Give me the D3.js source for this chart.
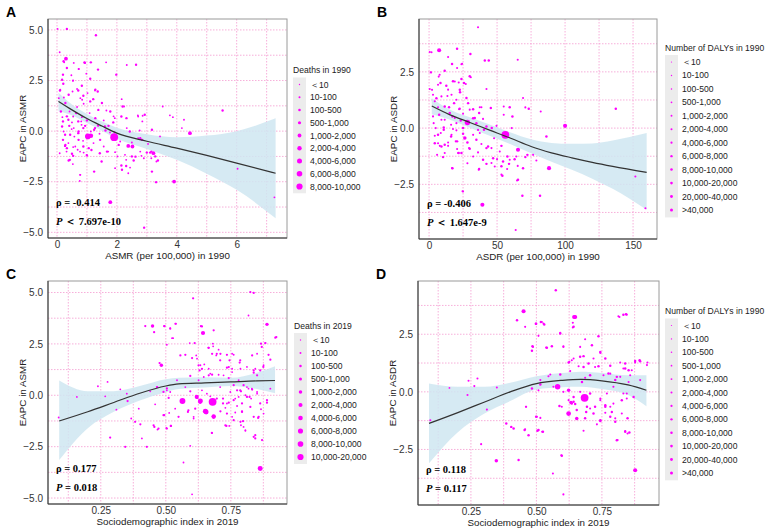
<!DOCTYPE html>
<html>
<head>
<meta charset="utf-8">
<script src="https://d3js.org/d3.v7.min.js"></script>
<style>
  body { margin: 0; background: #fff; }
  svg { font-family: "Liberation Sans", Arial, sans-serif; }
</style>
</head>
<body>
<script>
// EAPC scatter panels, four of them

var W = 767, H = 532;

// legend categories
var deaths1990 = ["＜10", "10-100", "100-500", "500-1,000", "1,000-2,000", "2,000-4,000", "4,000-6,000", "6,000-8,000", "8,000-10,000"];
var dalys1990 = ["＜10", "10-100", "100-500", "500-1,000", "1,000-2,000", "2,000-4,000", "4,000-6,000", "6,000-8,000", "8,000-10,000", "10,000-20,000", "20,000-40,000", ">40,000"];
var deaths2019 = ["＜10", "10-100", "100-500", "500-1,000", "1,000-2,000", "2,000-4,000", "4,000-6,000", "6,000-8,000", "8,000-10,000", "10,000-20,000"];

// points: [x, EAPC, size class]
var pointsA = [
  [0.02,5.05,1],[0.33,5.05,2],[1.3,4.74,2],[0.09,3.9,1],[0.3,3.58,4],[0.22,3.45,2],[0.56,3.37,1],[0.92,3.4,2],
  [1.13,3.4,2],[1.64,3.4,1],[0.33,3.12,2],[0.72,3.07,1],[1.37,3.04,2],[2.33,3.27,1],[2.64,3.28,2],[0.2,2.79,2],
  [0.48,2.76,1],[0.98,2.84,1],[1.98,2.79,2],[0.17,2.54,2],[0.53,2.49,1],[1.11,2.59,2],[0.83,2.24,2],[0.11,2.05,1],
  [0.67,2.08,1],[1.28,2.05,2],[1.36,1.96,2],[1.02,1.88,1],[0.39,1.8,2],[0.06,1.63,1],[0.78,1.63,1],[1.11,1.47,2],
  [2.16,1.58,1],[0.28,1.39,2],[0.89,1.35,1],[1.5,1.39,2],[2.19,1.22,2],[0.67,1.19,1],[3.53,1.22,1],[5.53,1.02,2],
  [0.13,0.97,2],[0.42,0.97,1],[0.64,0.89,2],[1.09,0.89,1],[1.78,0.97,2],[2.7,0.78,1],[3.77,0.78,1],[2.86,0.76,1],
  [0.33,0.73,2],[0.83,0.69,1],[1.28,0.64,2],[1.89,0.73,1],[3.87,0.69,1],[4.24,0.56,1],[0.2,0.48,2],[0.5,0.43,1],
  [1.0,0.53,2],[1.56,0.53,1],[0.94,0.26,2],[1.36,0.28,1],[1.72,0.26,2],[4.17,0.15,1],[0.17,0.23,2],[0.56,0.15,1],
  [0.72,-0.02,2],[1.13,-0.02,1],[1.92,-0.07,1],[2.33,0.15,1],[2.76,0.03,1],[3.17,0.07,2],[0.44,-0.18,2],[1.03,-0.26,6],
  [1.13,-0.23,5],[1.91,-0.3,8],[4.44,-0.1,4],[0.2,-0.43,2],[0.87,-0.48,1],[1.44,-0.43,2],[2.11,-0.51,1],[3.44,-0.26,1],
  [0.28,-0.68,2],[0.61,-0.76,1],[2.5,-0.56,1],[2.78,-0.35,2],[0.33,-0.84,2],[0.69,-0.92,1],[1.06,-0.84,2],[1.56,-0.76,1],
  [2.06,-0.68,2],[2.52,-0.76,4],[0.09,-1.09,1],[0.5,-1.12,2],[0.89,-1.06,1],[1.94,-1.04,1],[1.0,-1.2,2],[3.0,-1.06,2],
  [3.11,-1.06,2],[3.22,-1.09,4],[3.28,-1.25,2],[2.9,-1.34,1],[0.39,-1.45,2],[2.31,-1.42,1],[2.56,-1.45,2],[3.37,-1.45,2],
  [0.53,-1.63,1],[2.31,-1.72,2],[2.44,-1.8,1],[2.17,-1.91,2],[1.94,-1.83,1],[3.17,-2.0,2],[1.24,-2.0,2],[0.78,-2.16,1],
  [6.03,-1.86,1],[0.76,-2.46,1],[3.31,-2.52,2],[3.91,-2.49,4],[1.78,-3.51,4],[7.26,-3.27,1],[2.91,-4.77,2],
  [0.22,-0.02,1],[0.41,0.26,2],[0.81,0.48,1],[1.24,0.07,2],[1.42,-0.13,1],[1.62,0.03,2],[0.72,-0.43,2],[1.22,-0.59,1],
  [1.67,-1.01,2],[2.02,-1.25,1],[2.5,-1.25,2],[2.78,-1.01,1],
  [0.24,3.4,1],[0.93,3.37,2],[0.73,3.07,1],[0.21,2.34,2],[0.54,2.5,1],[0.1,2.01,2],[0.52,1.96,1],[0.71,2.01,2],
  [1.27,2.01,1],[0.88,1.75,2],[0.84,1.55,1],[1.21,1.58,2],[0.23,1.66,1],[1.38,1.05,2],[1.65,1.02,1],[2.24,1.22,1],
  [2.15,0.72,2],[2.71,0.72,1],[2.93,0.81,2],[2.85,0.48,1],[2.32,0.64,2],[1.93,0.64,1],[1.88,0.43,2],[0.18,0.69,1],
  [0.38,0.56,2],[0.54,0.72,1],[0.71,0.48,2],[0.82,0.31,1],[0.88,0.15,2],[0.49,0.1,1],[1.27,0.15,2],[1.38,0.26,1],
  [1.6,0.23,2],[1.77,-0.07,1],[2.43,-0.02,2],[2.71,-0.35,1],[2.84,-0.43,2],[3.04,-0.63,1],[0.27,-0.18,2],[0.58,-0.27,1],
  [0.71,-0.1,2],[0.38,-0.59,1],[0.27,-0.73,2],[0.54,-0.79,1],[0.88,-0.76,2],[0.77,-1.01,1],[1.15,-0.93,2],[0.32,-1.01,1],
  [0.54,-1.22,2],[0.99,-1.17,1],[1.43,-1.09,2],[1.71,-1.01,1],[2.38,-0.73,4],[2.27,-1.17,1],[2.62,-1.26,2],[2.82,-1.22,1],
  [3.15,-1.01,2],[3.32,-1.5,1],[2.15,-1.7,2],[2.38,-2.08,1],[0.43,-1.42,2],[0.77,-2.16,1],[1.49,-1.5,2],[3.15,-1.34,1]
];

var pointsB = [
  [36,4.48,2],[0.5,3.38,2],[7.4,3.46,6],[20.6,3.53,3],[30.4,3.29,3],[14,3.16,2],[41,3.0,3],[43.9,3.0,3],
  [65.2,3.04,2],[24.3,2.86,2],[20.6,2.67,2],[11.5,2.55,3],[1.2,2.48,2],[29.9,2.3,3],[7.8,2.37,2],[17.6,2.08,3],
  [21.8,2.03,2],[25.7,2.0,3],[27,1.96,2],[6.6,1.93,2],[12.7,1.88,3],[0.5,1.74,2],[14,1.71,2],[42.2,1.74,2],
  [22.8,1.59,3],[2.9,1.48,2],[9.1,1.41,2],[69.1,1.34,2],[27.5,1.34,3],[20.1,1.26,2],[18.4,1.11,3],[4.2,1.19,2],
  [11.5,0.96,3],[37.3,0.93,2],[54.9,0.96,2],[59.3,0.93,3],[70.8,0.92,2],[73.3,0.86,3],[137.3,0.86,3],[82.1,0.74,2],
  [22.5,0.86,3],[29.9,0.82,2],[15.2,0.67,3],[25,0.64,2],[36.8,0.67,3],[2.9,0.52,2],[7.4,0.59,3],[18.9,0.45,2],
  [33.6,0.45,3],[54.9,0.59,2],[61.3,0.52,3],[11.5,0.37,2],[23.3,0.34,3],[3.4,0.22,2],[28.2,0.25,8],[34.8,0.22,3],
  [16.2,0.15,2],[46.1,0,3],[60.8,0,2],[100,0.1,6],[4.9,0,2],[10.8,-0.07,3],[20.1,-0.1,2],[40.4,-0.07,3],
  [8.6,-0.22,2],[25,-0.25,3],[37.3,-0.22,2],[56.1,-0.3,11],[86.3,-0.37,3],[4.2,-0.34,2],[16.2,-0.37,3],[47.8,-0.45,2],
  [34.8,-0.52,3],[19.6,-0.59,2],[28.2,-0.64,3],[6.6,-0.67,2],[38.5,-0.71,2],[9.1,-0.82,3],[14,-0.79,2],[43.4,-0.82,3],
  [65.4,-0.96,6],[20.6,-0.93,2],[29.9,-0.92,3],[52,-1.04,2],[72.3,-1.19,3],[11.5,-1.11,2],[21.8,-1.11,3],[36,-1.08,2],
  [57.6,-1.26,3],[76.5,-1.19,2],[47.1,-1.34,3],[64.2,-1.26,2],[70.8,-1.29,3],[78.9,-1.44,2],[28.2,-1.56,2],[42.2,-1.59,3],
  [48.3,-1.71,2],[58.8,-1.59,3],[65.2,-1.68,2],[88.2,-1.78,6],[17.2,-1.78,3],[36.5,-1.85,2],[53.9,-2.12,3],[64.7,-2.33,2],
  [151.7,-2.15,2],[25,-2.82,2],[68.6,-3.01,3],[81.6,-3.01,3],[39.2,-3.41,6],[159.1,-3.56,2],[63.7,-4.53,2],
  [1.8,3.37,2],[23.8,2.84,2],[16.9,2.85,3],[1.5,2.47,2],[7.1,2.29,2],[8.4,2.0,3],[18.9,2.07,2],[23.8,2.18,3],
  [30.7,2.26,2],[2.2,1.7,2],[22.6,1.7,3],[16.5,1.48,2],[5.4,1.33,3],[13.5,1.43,2],[28.7,1.11,3],[6.6,0.93,2],
  [14.7,0.93,3],[22.1,0.84,2],[32.4,0.84,3],[38.5,0.93,2],[45.4,0.89,3],[9.1,0.37,2],[17.2,0.52,3],[20.1,0.22,2],
  [32.4,0.44,3],[39.7,0.41,2],[10.8,0.03,3],[17.6,-0.04,2],[25,0,3],[36,-0.08,2],[42.2,0.07,3],[49.6,0.1,2],
  [6.6,-0.3,3],[16.5,-0.3,2],[26.3,-0.44,5],[32.4,-0.3,2],[4.2,-0.67,3],[14,-0.64,2],[20.6,-0.59,3],[29.4,-0.89,2],
  [42.2,-0.89,3],[45.9,-0.89,2],[53.2,-0.79,3],[7.9,-0.79,2],[11.5,-0.74,3],[21.3,-1.11,2],[23.8,-1.11,3],[5.9,-1.19,2],
  [10.3,-1.29,3],[32.4,-1.26,2],[39.7,-1.41,3],[50,-1.38,2],[54.4,-1.48,3],[59.3,-1.41,2],[62.9,-1.38,3],[45.9,-1.55,2],
  [53.2,-1.7,3],[57.4,-1.82,2],[36.8,-1.82,3],[16.9,-1.78,2],[69.1,-1.78,3],[53.2,-2.07,2],[65.4,-2.3,3],[24.6,-2.81,2]
];

var pointsC = [
  [0.605,4.72,2],[0.568,-3.27,1],[0.601,-4.82,1],[0.421,3.37,2],[0.449,3.37,4],[0.455,3.07,2],[0.495,3.37,2],[0.517,3.24,2],
  [0.539,3.48,1],[0.524,2.78,1],[0.639,3.35,2],[0.643,3.03,5],[0.684,3.16,2],[0.611,2.54,2],[0.575,1.97,2],[0.62,1.78,1],
  [0.476,1.57,2],[0.483,1.46,4],[0.626,1.46,2],[0.648,1.5,1],[0.664,2.31,2],[0.681,2.51,1],[0.696,2.02,2],[0.703,2.22,1],
  [0.709,1.7,2],[0.735,1.97,2],[0.761,1.97,1],[0.745,1.7,2],[0.671,1.05,1],[0.63,1.21,2],[0.646,0.89,1],[0.735,1.34,2],
  [0.755,1.13,1],[0.786,1.7,2],[0.812,1.38,1],[0.838,1.21,2],[0.818,3.88,1],[0.869,2.35,2],[0.882,2.54,1],[0.895,1.97,2],
  [0.889,3.45,4],[0.925,2.83,2],[0.825,5.02,2],[0.838,4.98,2],[0.158,-0.08,1],[0.088,-1.08,1],[0.239,0.44,1],[0.276,0.65,1],
  [0.267,-0.05,1],[0.325,0.29,1],[0.286,-2.06,2],[0.31,-0.7,1],[0.344,-2.51,2],[0.35,0.08,1],[0.353,-0.28,2],[0.367,-1.13,1],
  [0.382,-1.29,2],[0.402,-1.41,2],[0.396,-0.65,1],[0.408,-2.1,1],[0.427,-2.51,2],[0.44,0.19,1],[0.459,-0.44,1],[0.466,0.4,2],
  [0.453,-1.46,2],[0.472,-1.62,2],[0.491,-0.97,2],[0.504,0.24,1],[0.511,-0.13,2],[0.517,0.16,1],[0.504,-1.62,2],[0.519,-1.49,2],
  [0.536,-0.65,1],[0.549,-1.05,2],[0.564,-0.28,7],[0.575,0.4,1],[0.594,0.19,2],[0.587,-0.73,2],[0.607,-1.05,1],[0.619,-0.08,5],
  [0.632,-0.32,5],[0.639,0.24,1],[0.649,-0.81,2],[0.655,-0.81,6],[0.658,0.08,1],[0.68,-0.32,9],[0.684,-1.05,5],[0.677,-1.83,2],
  [0.696,-0.16,2],[0.709,0.4,1],[0.72,-0.4,2],[0.735,-0.89,2],[0.729,-1.46,2],[0.748,0.16,1],[0.761,-0.24,2],[0.761,-1.21,2],
  [0.774,-0.52,1],[0.786,0.24,2],[0.793,-0.81,2],[0.799,-1.54,1],[0.812,-0.08,2],[0.825,-0.57,2],[0.831,0.32,1],[0.838,-1.05,2],
  [0.844,-1.94,2],[0.851,0.08,1],[0.863,-0.4,2],[0.876,-0.89,1],[0.87,-2.18,2],[0.863,-3.56,6],[0.889,-0.24,2],[0.902,0.32,1],
  [0.921,2.8,2],[0.883,2.54,2],[0.875,1.38,2],[0.844,1.29,1],[0.902,1.73,2],[0.851,0.97,2],[0.818,0.32,1],[0.799,0.49,2],
  [0.857,-1.05,2],[0.787,-1.29,2],[0.806,-1.7,1],[0.844,-2.1,2],
  [0.494,3.36,2],[0.517,3.27,1],[0.537,3.48,2],[0.528,2.78,1],[0.635,3.36,2],[0.592,2.54,1],[0.665,2.31,2],[0.682,2.38,1],
  [0.556,1.94,2],[0.504,2.46,1],[0.601,1.81,2],[0.617,1.94,1],[0.678,2.02,2],[0.694,1.94,1],[0.71,2.02,2],[0.755,2.02,1],
  [0.832,1.94,2],[0.851,2.02,1],[0.866,2.51,2],[0.633,1.46,1],[0.639,1.29,2],[0.665,1.29,1],[0.742,1.37,2],[0.755,1.29,1],
  [0.784,1.59,2],[0.787,1.29,1],[0.838,1.1,2],[0.876,1.46,1],[0.863,1.21,2],[0.703,1.0,1],[0.665,0.97,2],[0.722,0.97,1],
  [0.742,0.84,2],[0.78,0.73,1],[0.761,0.49,2],[0.812,0.4,1],[0.832,0.28,2],[0.851,0.16,1],[0.789,0.19,2],[0.806,0,1],
  [0.822,-0.08,2],[0.78,-0.08,1],[0.793,-0.4,2],[0.828,-0.16,1],[0.889,-0.36,2],[0.866,-0.68,1],[0.742,-0.36,2],[0.729,-0.61,1],
  [0.71,-0.78,2],[0.767,-0.84,1],[0.793,-0.78,2],[0.755,-1.05,1],[0.797,-1.26,2],[0.789,-1.46,1],[0.855,-1.1,2],[0.806,-1.73,1],
  [0.838,-2.02,2],[0.744,-1.49,1],[0.733,-1.49,2],[0.678,-1.83,1],[0.613,-0.65,2],[0.607,-1.13,1],[0.585,-0.81,2],[0.513,-0.86,1],
  [0.494,-0.97,2],[0.468,-1.67,1],[0.456,-1.54,2],[0.502,-1.59,1],[0.52,-1.49,2],[0.594,-2.46,1],[0.652,-0.78,6],[0.658,-0.84,2],
  [0.684,-1.02,5],[0.633,-0.28,6],[0.62,-0.13,2],[0.735,-0.4,1],[0.72,-0.16,2],[0.671,-0.05,1],[0.774,0.24,2],[0.767,-0.16,1],
  [0.678,1.0,2],[0.626,0.73,1],[0.594,0.94,2],[0.543,0.73,1],[0.504,0.33,2],[0.468,0.4,1],[0.491,0.16,2]
];

var pointsD = [
  [0.574,4.41,3],[0.451,3.5,6],[0.426,3.11,3],[0.457,2.82,2],[0.498,2.96,3],[0.517,3.03,3],[0.527,2.96,2],[0.648,3.25,6],
  [0.639,3.0,2],[0.642,2.82,3],[0.591,2.56,2],[0.737,2.41,3],[0.686,2.28,2],[0.813,3.28,2],[0.842,3.37,3],[0.485,1.98,3],
  [0.537,1.92,2],[0.559,1.98,3],[0.483,1.78,3],[0.603,1.95,2],[0.667,1.95,2],[0.744,1.73,3],[0.635,1.37,2],[0.667,1.52,3],
  [0.718,1.45,2],[0.763,1.45,3],[0.626,1.3,2],[0.68,1.08,3],[0.737,1.11,3],[0.782,0.79,2],[0.839,1.01,3],[0.877,1.34,3],
  [0.894,1.37,3],[0.864,0.94,2],[0.82,0.65,2],[0.241,0.48,2],[0.275,0.58,2],[0.263,0.25,2],[0.237,-0.14,2],[0.168,0.17,1],
  [0.095,-1.23,2],[0.289,-2.27,2],[0.311,-0.77,2],[0.349,0.19,2],[0.347,-2.99,5],[0.385,-1.37,3],[0.404,-1.52,3],[0.413,-1.59,3],
  [0.432,-2.96,3],[0.455,-1.66,3],[0.46,-0.65,2],[0.502,-1.08,2],[0.508,-1.66,3],[0.525,-1.73,3],[0.515,0.51,2],[0.546,0.68,2],
  [0.565,0.22,2],[0.581,0.22,8],[0.597,-0.65,2],[0.603,0,2],[0.595,-2.75,2],[0.563,-3.54,2],[0.603,-4.45,2],[0.623,0.07,5],
  [0.635,-0.51,3],[0.642,-0.22,3],[0.654,-0.79,3],[0.623,-0.94,7],[0.654,-1.16,5],[0.667,0,2],[0.684,-0.26,11],[0.693,-0.65,3],
  [0.68,-1.69,2],[0.705,-0.07,3],[0.718,-0.94,3],[0.744,-1.23,3],[0.744,-0.36,2],[0.763,-0.65,3],[0.769,-0.07,2],[0.782,-1.08,3],
  [0.794,-0.51,2],[0.807,-2.1,3],[0.826,-0.94,2],[0.839,-1.73,3],[0.845,-0.07,2],[0.848,-1.81,2],[0.871,-0.22,3],[0.877,-3.4,6],
  [0.794,0.22,2],[0.801,0.51,3],[0.852,0.43,2],[0.896,0.51,2],[0.922,1.16,2],
  [0.712,2.02,3],[0.744,1.69,2],[0.68,1.55,3],[0.642,1.45,2],[0.623,1.27,3],[0.661,1.11,2],[0.699,1.23,3],[0.724,1.08,2],
  [0.782,1.13,3],[0.82,1.27,2],[0.839,1.23,3],[0.877,1.27,2],[0.896,1.33,3],[0.924,1.27,2],[0.807,0.65,3],[0.832,1.01,2],
  [0.852,0.94,3],[0.858,0.72,2],[0.775,0.8,3],[0.756,0.72,2],[0.705,0.72,3],[0.686,0.61,2],[0.674,0.43,3],[0.629,0.9,2],
  [0.591,0.75,3],[0.553,0.75,2],[0.515,0.32,3],[0.508,0.07,2],[0.483,0.15,3],[0.461,-0.65,2],[0.499,-1.08,3],[0.515,-1.13,2],
  [0.504,-1.69,3],[0.522,-1.73,2],[0.47,-1.88,3],[0.457,-1.62,2],[0.588,-0.61,3],[0.623,-0.36,2],[0.642,-0.43,3],[0.705,-0.72,2],
  [0.724,-0.65,3],[0.744,-0.29,2],[0.763,-0.58,3],[0.782,-0.65,2],[0.788,-0.87,3],[0.763,-0.91,2],[0.744,-1.27,3],[0.731,-1.41,2],
  [0.686,-1.15,3],[0.801,-1.15,2],[0.801,-1.3,3],[0.832,-0.07,2],[0.826,-0.36,3],[0.845,-0.29,2],[0.848,-1.15,3],[0.839,-1.7,2],
  [0.855,-1.76,3],[0.81,-2.09,2],[0.597,-2.77,3],[0.817,3.25,2],[0.832,3.35,3],[0.845,3.35,2],[0.499,2.96,3],[0.521,3.03,2],
  [0.53,2.92,3],[0.508,2.43,2],[0.591,2.53,3],[0.487,1.95,2],[0.54,1.91,3],[0.603,1.98,2],[0.644,3.25,6],[0.639,2.79,2],
  [0.632,-0.46,5],[0.648,-0.53,3],[0.69,-0.87,3]
];

// loess fits: x, fit, lower, upper
var fitAx = [0.05, 0.5, 1, 1.5, 2, 3, 4, 5, 6, 7.3];
var fitAy = [1.47, 1.05, 0.62, 0.25, -0.1, -0.5, -0.84, -1.2, -1.58, -2.08];
var fitAlo = [1.0, 0.78, 0.4, 0.02, -0.38, -0.88, -1.42, -2.1, -2.9, -4.3];
var fitAhi = [1.9, 1.32, 0.85, 0.48, 0.17, -0.15, -0.3, -0.22, 0.0, 0.64];

var fitBx = [2, 15, 30, 45, 60, 75, 90, 105, 120, 135, 160];
var fitBy = [0.98, 0.6, 0.25, -0.1, -0.45, -0.82, -1.1, -1.32, -1.52, -1.7, -1.97];
var fitBlo = [0.62, 0.38, 0.02, -0.35, -0.72, -1.12, -1.5, -1.85, -2.25, -2.7, -3.63];
var fitBhi = [1.33, 0.83, 0.48, 0.15, -0.2, -0.5, -0.66, -0.7, -0.68, -0.55, -0.22];

var fitCx = [0.09, 0.2, 0.3, 0.4, 0.5, 0.55, 0.65, 0.75, 0.85, 0.92];
var fitCy = [-1.25, -0.8, -0.35, 0.1, 0.45, 0.55, 0.6, 0.65, 0.7, 0.72];
var fitClo = [-3.15, -1.6, -0.8, -0.25, 0.15, 0.3, 0.38, 0.45, 0.3, 0.1];
var fitChi = [0.72, 0.2, 0.2, 0.45, 0.78, 0.85, 0.88, 0.85, 1.1, 1.41];

var fitDx = [0.09, 0.2, 0.3, 0.4, 0.5, 0.6, 0.67, 0.75, 0.85, 0.92];
var fitDy = [-1.37, -0.9, -0.45, 0.0, 0.36, 0.5, 0.54, 0.48, 0.3, 0.07];
var fitDlo = [-3.1, -1.75, -0.95, -0.4, 0.1, 0.2, 0.22, 0.12, -0.14, -0.62];
var fitDhi = [0.36, 0.22, 0.22, 0.4, 0.68, 0.82, 0.87, 0.82, 0.72, 0.72];

var svg = d3.select("body").append("svg").attr("width", W).attr("height", H);

var panels = [
  { tag: "A", left: 48, right: 287, top: 19, bottom: 238, xd: [-0.3, 7.68], yd: [-5.28, 5.54],
    xt: [0, 2, 4, 6], xm: [1, 3, 5, 7], yt: [-5, -2.5, 0, 2.5, 5], ym: [-3.75, -1.25, 1.25, 3.75], xf: d3.format("d"),
    pts: pointsA, fx: fitAx, fy: fitAy, flo: fitAlo, fhi: fitAhi, xlab: "ASMR (per 100,000) in 1990", ylab: "EAPC in ASMR",
    rho: "ρ = -0.414", p: ["＜", "7.697e-10"], leg: deaths1990, legTitle: "Deaths in 1990", lx: 293, ly: 73, lstep: 12.75, small: false },
  { tag: "B", left: 419, right: 657, top: 19, bottom: 239, xd: [-7.4, 167.6], yd: [-4.93, 4.85],
    xt: [0, 50, 100, 150], xm: [25, 75, 125], yt: [-2.5, 0, 2.5], ym: [-3.75, -1.25, 1.25, 3.75], xf: d3.format("d"),
    pts: pointsB, fx: fitBx, fy: fitBy, flo: fitBlo, fhi: fitBhi, xlab: "ASDR (per 100,000) in 1990", ylab: "EAPC in ASDR",
    rho: "ρ = -0.406", p: ["＜", "1.647e-9"], leg: dalys1990, legTitle: "Number of DALYs in 1990", lx: 665, ly: 50.5, lstep: 13.45, small: true },
  { tag: "C", left: 48, right: 287, top: 281, bottom: 504, xd: [0.047, 0.966], yd: [-5.29, 5.56],
    xt: [0.25, 0.5, 0.75], xm: [0.125, 0.375, 0.625, 0.875], yt: [-5, -2.5, 0, 2.5, 5], ym: [-3.75, -1.25, 1.25, 3.75], xf: d3.format(".2f"),
    pts: pointsC, fx: fitCx, fy: fitCy, flo: fitClo, fhi: fitChi, xlab: "Sociodemographic index in 2019", ylab: "EAPC in ASMR",
    rho: "ρ = 0.177", p: ["=", "0.018"], leg: deaths2019, legTitle: "Deaths in 2019", lx: 294, ly: 328.5, lstep: 13, small: false },
  { tag: "D", left: 418, right: 659, top: 281, bottom: 505, xd: [0.048, 0.968], yd: [-4.91, 4.81],
    xt: [0.25, 0.5, 0.75], xm: [0.125, 0.375, 0.625, 0.875], yt: [-2.5, 0, 2.5], ym: [-3.75, -1.25, 1.25, 3.75], xf: d3.format(".2f"),
    pts: pointsD, fx: fitDx, fy: fitDy, flo: fitDlo, fhi: fitDhi, xlab: "Sociodemographic index in 2019", ylab: "EAPC in ASDR",
    rho: "ρ = 0.118", p: ["=", "0.117"], leg: dalys1990, legTitle: "Number of DALYs in 1990", lx: 665, ly: 314, lstep: 13.4, small: true }
];

panels.forEach(drawPanel);

function drawPanel(c) {
  var x = d3.scaleLinear().domain(c.xd).range([c.left, c.right]);
  var y = d3.scaleLinear().domain(c.yd).range([c.bottom, c.top]);
  var n = c.leg.length;
  var rad = d3.scalePow().exponent(1.5).domain([0, n - 1]).range([0.8, 3.9]);
  var g = svg.append("g");

  // grid, dotted pink
  var grid = g.append("g");
  grid.selectAll(".vx").data(c.xm.concat(c.xt)).enter().append("line")
    .attr("x1", d => x(d)).attr("x2", d => x(d)).attr("y1", c.top).attr("y2", c.bottom)
    .attr("stroke", "#f59ad0").attr("stroke-width", 0.8).attr("stroke-dasharray", "1.5,1.5");
  grid.selectAll(".hy").data(c.ym.concat(c.yt)).enter().append("line")
    .attr("y1", d => y(d)).attr("y2", d => y(d)).attr("x1", c.left).attr("x2", c.right)
    .attr("stroke", "#f59ad0").attr("stroke-width", 0.8).attr("stroke-dasharray", "1.5,1.5");

  // confidence band
  var idx = d3.range(c.fx.length);
  var band = d3.area().curve(d3.curveMonotoneX)
    .x(i => x(c.fx[i])).y0(i => y(c.flo[i])).y1(i => y(c.fhi[i]));
  g.append("path").attr("d", band(idx)).attr("fill", "#cfe6f1").attr("opacity", 0.85);

  // points
  g.selectAll("circle.pt").data(c.pts).enter().append("circle")
    .attr("cx", d => x(d[0])).attr("cy", d => y(d[1])).attr("r", d => rad(d[2]))
    .attr("fill", "#ff00ff");

  // fit line
  var line = d3.line().curve(d3.curveMonotoneX).x(i => x(c.fx[i])).y(i => y(c.fy[i]));
  g.append("path").attr("d", line(idx)).attr("fill", "none").attr("stroke", "#333").attr("stroke-width", 1.2);

  // frame
  g.append("rect").attr("x", c.left).attr("y", c.top).attr("width", c.right - c.left).attr("height", c.bottom - c.top)
    .attr("fill", "none").attr("stroke", "#9a9a9a").attr("stroke-width", 1);
  g.append("line").attr("x1", c.left).attr("x2", c.left).attr("y1", c.top).attr("y2", c.bottom).attr("stroke", "#333");
  g.append("line").attr("x1", c.left).attr("x2", c.right).attr("y1", c.bottom).attr("y2", c.bottom).attr("stroke", "#333");

  // axes
  var xa = d3.axisBottom(x).tickValues(c.xt).tickFormat(c.xf).tickSize(0).tickPadding(3);
  var ya = d3.axisLeft(y).tickValues(c.yt).tickFormat(d3.format(".1f")).tickSize(0).tickPadding(5);
  var gx = g.append("g").attr("transform", "translate(0," + c.bottom + ")").call(xa);
  var gy = g.append("g").attr("transform", "translate(" + c.left + ",0)").call(ya);
  [gx, gy].forEach(function (a) {
    a.select(".domain").remove();
    a.selectAll("text").attr("font-size", 10).attr("fill", "#333").attr("font-family", "Liberation Sans, Arial, sans-serif");
  });

  g.append("text").attr("x", (c.left + c.right) / 2).attr("y", c.bottom + 21).attr("text-anchor", "middle")
    .attr("font-size", 9.8).attr("fill", "#222").text(c.xlab);
  g.append("text").attr("transform", "translate(" + (c.left - 22) + "," + ((c.top + c.bottom) / 2) + ") rotate(-90)")
    .attr("text-anchor", "middle").attr("font-size", 9.8).attr("fill", "#222").text(c.ylab);

  // panel letter
  g.append("text").attr("x", c.left - 42).attr("y", c.top - 2).attr("font-size", 14).attr("font-weight", "bold").text(c.tag);

  // correlation text
  var ax = c.left + 8;
  var serif = "Liberation Serif, Times New Roman, serif";
  g.append("text").attr("x", ax).attr("y", c.bottom - 32).attr("font-family", serif)
    .attr("font-weight", "bold").attr("font-size", 10.5).text(c.rho);
  var pt = g.append("text").attr("x", ax).attr("y", c.bottom - 13).attr("font-family", serif)
    .attr("font-weight", "bold").attr("font-size", 10.5);
  pt.append("tspan").attr("font-style", "italic").text("P");
  pt.append("tspan").text(" " + c.p[0] + " ");
  pt.append("tspan").text(c.p[1]);

  // legend
  var lg = g.append("g");
  lg.append("text").attr("x", c.lx).attr("y", c.ly).attr("font-size", 8.6).attr("fill", "#222").text(c.legTitle);
  var y0 = c.ly + 11.5;
  lg.append("rect").attr("x", c.lx).attr("y", y0 - 7).attr("width", 13).attr("height", c.lstep * n + 1)
    .attr("fill", "#ececec");
  var keyR = c.small ? d3.scaleLinear().domain([0, n - 1]).range([0.6, 1.5]) : d3.scaleLinear().domain([0, n - 1]).range([0.7, 3.1]);
  lg.selectAll("circle").data(c.leg).enter().append("circle")
    .attr("cx", c.lx + 6.5).attr("cy", (d, i) => y0 + i * c.lstep).attr("r", (d, i) => keyR(i)).attr("fill", "#ff00ff");
  lg.selectAll("text.lab").data(c.leg).enter().append("text").attr("class", "lab")
    .attr("x", c.lx + 17).attr("y", (d, i) => y0 + i * c.lstep + 3).attr("font-size", 8.6).attr("fill", "#222").text(d => d);
}
</script>
</body>
</html>
